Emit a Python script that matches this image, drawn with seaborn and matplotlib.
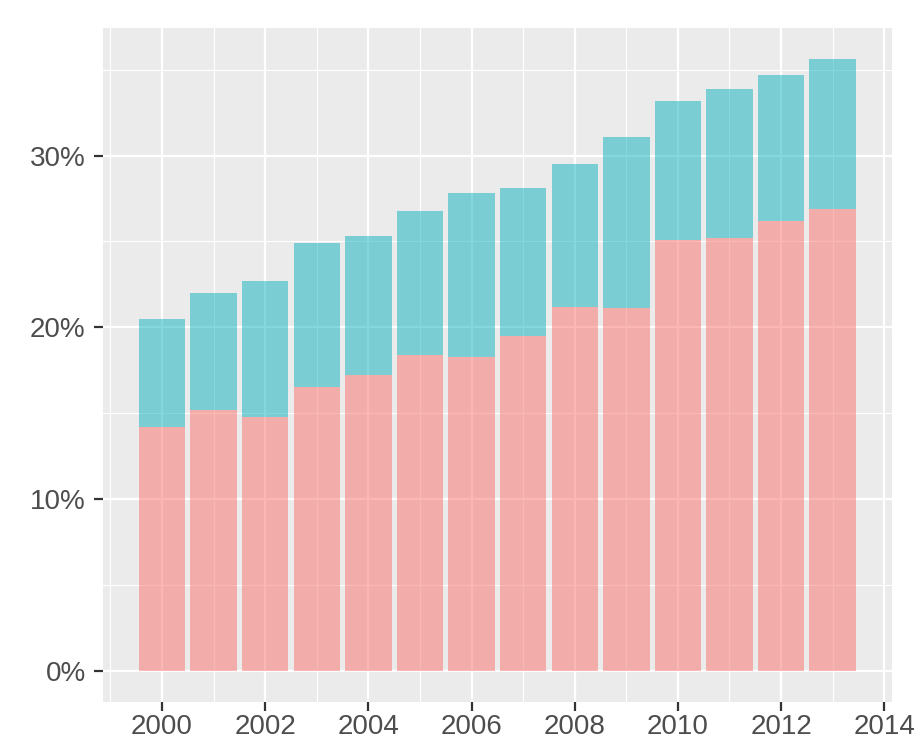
import matplotlib
matplotlib.use("Agg")
import matplotlib.pyplot as plt
import seaborn as sns
import pandas as pd
from matplotlib.ticker import FixedLocator, FuncFormatter

years = [2000, 2001, 2002, 2003, 2004, 2005, 2006, 2007, 2008, 2009, 2010, 2011, 2012, 2013]
lower_share = [14.2, 15.2, 14.8, 16.5, 17.2, 18.4, 18.3, 19.5, 21.2, 21.1, 25.1, 25.2, 26.2, 26.9]
upper_share = [6.3, 6.8, 7.9, 8.4, 8.1, 8.4, 9.5, 8.6, 8.3, 10.0, 8.1, 8.7, 8.5, 8.7]
group_names = ["lower", "upper"]
group_colors = ["#F9716B", "#0AB1BB"]
x_ticks = [2000, 2002, 2004, 2006, 2008, 2010, 2012, 2014]
y_ticks = [0, 10, 20, 30]

df = pd.DataFrame({
    "year": years * 2,
    "share": lower_share + upper_share,
    "group": [group_names[0]] * len(years) + [group_names[1]] * len(years),
})

plt.rcParams["font.family"] = ["Liberation Sans", "DejaVu Sans"]
fig = plt.figure(figsize=(9.18, 7.42), dpi=100)
ax = fig.add_axes([103 / 918, 1 - 701.7 / 742, (891.7 - 103) / 918, (701.7 - 28) / 742])
ax.set_facecolor("#EBEBEB")
ax.set_axisbelow(True)

sns.histplot(data=df, x="year", weights="share", hue="group", hue_order=group_names[::-1],
             multiple="stack", discrete=True, shrink=0.9, alpha=0.5,
             palette=dict(zip(group_names, group_colors)), linewidth=0, edgecolor="none",
             legend=False, ax=ax)

ax.set_xlim(1998.855, 2014.145)
ax.set_ylim(-1.8, 37.43)
ax.xaxis.set_major_locator(FixedLocator(x_ticks))
ax.xaxis.set_minor_locator(FixedLocator([1999, 2001, 2003, 2005, 2007, 2009, 2011, 2013]))
ax.yaxis.set_major_locator(FixedLocator(y_ticks))
ax.yaxis.set_minor_locator(FixedLocator([5, 15, 25, 35]))
ax.yaxis.set_major_formatter(FuncFormatter(lambda v, p: f"{v:.0f}%"))
ax.grid(which="major", color="white", linewidth=1.6)
ax.grid(which="minor", color="white", linewidth=0.8)
for s in ax.spines.values():
    s.set_visible(False)
ax.tick_params(which="major", length=6.5, width=1.6, color="#333333", labelcolor="#4D4D4D",
               labelsize=20)
ax.tick_params(axis="y", which="major", pad=6)
ax.tick_params(axis="x", which="major", pad=2)
ax.tick_params(which="minor", length=0)
ax.set_xlabel("")
ax.set_ylabel("")
fig.savefig("out.png", dpi=100, facecolor="white")
